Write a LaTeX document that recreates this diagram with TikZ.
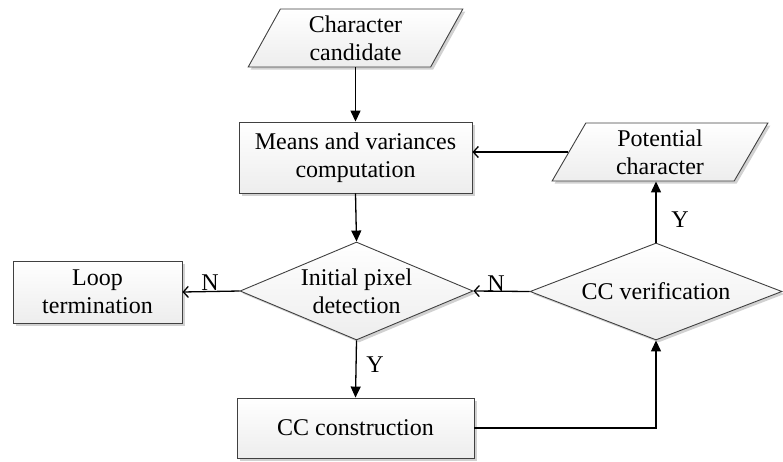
\documentclass[tikz,border=0pt]{standalone}
\usepackage{fontspec}
\setmainfont{Liberation Serif}
\newfontfamily\tnrfont{Liberation Serif}
\usetikzlibrary{shapes.geometric,arrows.meta,shadows}
\begin{document}
\begin{tikzpicture}[x=1pt,y=-1pt,
 every node/.style={font=\tnrfont\fontsize{24}{28}\selectfont},
 base/.style={draw=black!75, line width=0.9pt, top color=white, bottom color=gray!14,
   drop shadow={shadow xshift=2.5pt, shadow yshift=-2.5pt, opacity=0.18, fill=black},
   align=center, inner sep=0pt},
 box/.style={base, rectangle},
 io/.style={base, trapezium, trapezium left angle=66, trapezium right angle=114, trapezium stretches=true},
 dec/.style={base, diamond},
 txt/.style={align=center, inner sep=0pt},
 lab/.style={inner sep=0pt},
 fl/.style={line width=1.3pt, -{Triangle[length=11pt,width=10pt]}},
 op/.style={line width=1.3pt, -{Straight Barb[length=5pt,width=11pt]}}
]
\useasboundingbox (0,0) rectangle (783,461);
\node[io, minimum width=215pt, minimum height=58pt] (cand) at (355.5,38) {Character\\candidate};
\node[box, minimum width=233pt, minimum height=71pt] (means) at (355.5,157.5) {Means and variances\\computation};
\node[io, minimum width=216pt, minimum height=58pt] (pot) at (660,152) {Potential\\character};
\node[dec, minimum width=233pt, minimum height=98pt] (init) at (356.5,291) {};
\node[txt] (initT) at (init) {Initial pixel\\detection};
\node[box, minimum width=169pt, minimum height=62pt] (loop) at (97.5,292) {Loop\\termination};
\node[dec, minimum width=252pt, minimum height=97pt] (ccver) at (656,291.5) {};
\node[txt] (ccverT) at (ccver) {CC verification};
\node[box, minimum width=237pt, minimum height=60pt] (ccc) at (355.5,428) {CC construction};

\draw[fl] (cand.south -| means.north) -- (means.north);
\draw[fl] (means.south) -- (init.north);
\draw[op] (init.west) -- (loop.east);
\draw[fl] (init.south) -- (ccc.north);
\draw[fl] (ccc.east) -| (ccver.south);
\draw[fl] (ccver.north) -- (ccver.north |- pot.south);
\draw[op] (pot.left side) -- (pot.left side -| means.east);
\draw[op] (ccver.west) -- (init.east);

\node[lab] (n1) at (210,283) {N};
\node[lab] (n2) at (496,284) {N};
\node[lab] (y1) at (680,220) {Y};
\node[lab] (y2) at (375,365) {Y};
\end{tikzpicture}
\end{document}
